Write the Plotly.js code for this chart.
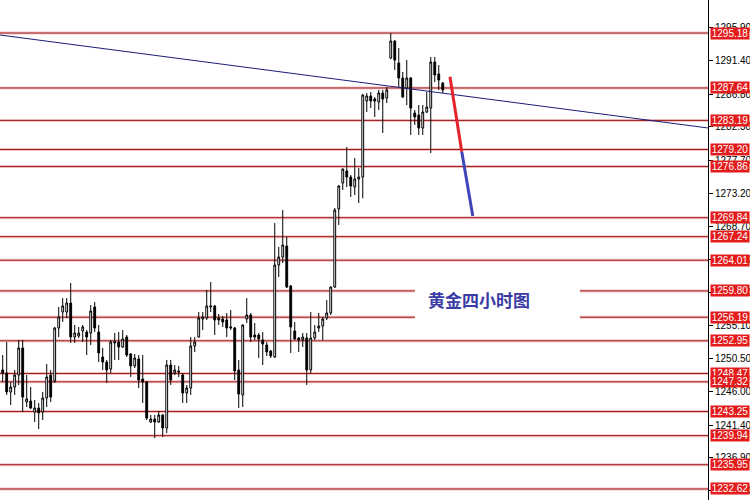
<!DOCTYPE html>
<html>
<head>
<meta charset="utf-8">
<script src="https://cdn.plot.ly/plotly-3.0.1.min.js"></script>
<style>html,body{margin:0;padding:0;background:#fff;}#chart{width:750px;height:500px;}</style>
</head>
<body>
<div id="chart"></div>
<script>
// Candle data (4-hour gold)
var openP = [1248.95,1248.53,1245.93,1246.61,1248.26,1251.96,1244.55,1244.69,1243.18,1243.73,
1243.18,1245.10,1248.26,1247.44,1254.71,1256.90,1256.90,1258.14,1253.47,1253.61,
1254.30,1254.16,1254.02,1257.59,1254.16,1250.73,1250.04,1249.08,1252.65,1252.79,
1252.10,1253.47,1251.14,1249.49,1250.45,1247.71,1247.30,1241.81,1242.22,1241.81,
1242.77,1240.99,1249.63,1248.53,1248.81,1248.26,1245.79,1246.48,1252.24,1253.47,
1255.94,1256.08,1257.59,1257.73,1256.08,1255.94,1255.81,1254.71,1254.71,1248.95,
1245.52,1255.94,1256.49,1253.75,1253.75,1253.06,1252.38,1251.55,1250.73,1263.35,
1264.44,1265.96,1260.47,1254.30,1253.34,1253.06,1253.34,1248.95,1253.34,1254.71,
1254.98,1256.08,1256.77,1260.33,1271.03,1274.60,1276.25,1275.42,1274.05,1275.15,
1275.42,1285.85,1286.54,1286.13,1285.72,1286.95,1286.26,1291.75,1294.08,1291.07,
1289.01,1287.64,1289.01,1284.21,1283.93,1282.15,1284.34,1284.89,1291.20,1289.56,
1288.32];
var highP = [1251.00,1252.79,1247.30,1248.95,1253.06,1253.06,1248.26,1246.61,1244.83,1244.42,
1245.93,1249.77,1248.95,1254.85,1257.59,1258.81,1258.81,1260.88,1255.12,1254.85,
1255.12,1254.43,1257.86,1258.28,1255.12,1251.96,1250.32,1253.06,1254.02,1254.16,
1254.43,1253.75,1251.28,1251.14,1251.00,1251.00,1247.44,1242.77,1242.77,1243.32,
1242.91,1250.32,1250.32,1249.63,1249.50,1248.53,1246.89,1253.47,1253.47,1256.90,
1256.90,1259.92,1261.02,1257.86,1256.63,1256.36,1256.77,1257.18,1254.85,1250.32,
1255.20,1258.81,1256.77,1255.40,1254.02,1254.16,1252.79,1251.69,1269.11,1265.82,
1270.90,1267.19,1260.61,1255.53,1253.47,1254.02,1254.02,1256.90,1255.12,1256.77,
1256.22,1258.55,1260.40,1271.17,1274.33,1276.60,1279.54,1275.70,1278.03,1276.66,
1286.80,1286.95,1287.09,1286.40,1287.36,1287.36,1287.77,1295.18,1294.22,1293.12,
1289.83,1291.48,1289.15,1284.62,1285.30,1285.30,1287.09,1291.89,1291.89,1290.79,
1288.46];
var lowP = [1247.30,1245.52,1244.14,1245.52,1246.89,1243.18,1243.87,1243.60,1241.81,1240.85,
1242.09,1243.87,1244.55,1247.16,1253.47,1255.53,1256.08,1252.65,1252.65,1253.34,
1252.79,1251.00,1252.38,1254.16,1250.04,1248.95,1247.16,1248.53,1250.32,1250.32,
1251.96,1250.73,1247.99,1249.22,1246.48,1244.42,1242.09,1241.68,1239.62,1241.68,
1239.75,1240.30,1246.89,1248.26,1247.99,1244.42,1244.42,1245.52,1251.42,1253.40,
1254.43,1255.81,1256.90,1253.75,1255.12,1254.85,1253.47,1254.43,1247.57,1243.73,
1243.87,1255.40,1252.79,1253.06,1250.59,1249.63,1250.87,1250.59,1250.59,1261.71,
1263.63,1260.20,1251.28,1253.06,1251.42,1252.10,1246.89,1248.53,1253.06,1254.16,
1253.06,1255.81,1256.49,1260.20,1268.84,1273.64,1274.05,1272.68,1272.95,1271.86,
1272.50,1284.34,1284.89,1283.66,1284.62,1281.46,1285.58,1291.60,1290.11,1287.77,
1286.26,1285.30,1281.19,1282.56,1281.19,1281.19,1284.21,1278.72,1288.46,1287.36,
1286.95];
var closeP = [1248.53,1245.93,1246.61,1248.26,1251.96,1245.24,1244.97,1243.73,1243.73,1243.05,
1245.10,1247.99,1245.24,1254.71,1256.22,1257.73,1258.14,1253.47,1254.02,1254.02,
1254.85,1253.47,1257.04,1254.71,1251.28,1250.04,1248.95,1252.79,1252.85,1252.10,
1253.20,1251.00,1249.49,1250.59,1247.57,1247.30,1242.36,1242.22,1241.81,1242.77,
1240.99,1249.63,1247.57,1248.95,1248.67,1245.79,1246.48,1252.24,1252.79,1256.08,
1256.22,1257.73,1257.73,1255.81,1255.81,1255.53,1254.71,1254.85,1248.81,1245.65,
1255.12,1256.49,1253.47,1253.47,1253.20,1252.51,1251.42,1250.87,1263.35,1264.44,
1266.10,1260.33,1254.85,1253.20,1253.06,1253.47,1248.95,1253.34,1254.16,1254.98,
1255.94,1256.77,1260.33,1270.90,1274.19,1276.52,1275.42,1274.19,1275.15,1275.42,
1286.67,1286.54,1285.85,1285.85,1286.95,1286.13,1287.36,1294.08,1291.48,1289.01,
1286.40,1289.01,1284.89,1283.66,1282.15,1284.34,1285.03,1291.20,1289.42,1288.73,
1287.36];

// Horizontal support / resistance levels
var levels = [1295.18,1287.64,1283.19,1279.20,1276.86,1269.84,1267.24,1264.01,1259.80,
1256.19,1252.95,1248.47,1247.32,1243.25,1239.94,1235.95,1232.62];

// Right axis ticks
var tickVals = [1295.90,1291.40,1286.80,1282.30,1277.70,1273.20,1268.70,1264.10,1259.60,
1255.10,1250.50,1246.00,1241.40,1236.90,1232.40];

// Trend line (bar index, price)
var trendX = [-1, 177];
var trendY = [1294.93, 1282.10];
// Forecast path: red leg, then blue leg
var redX = [111.8, 114.75];
var redY = [1289.19, 1278.90];
var blueX = [114.75, 117.5];
var blueY = [1278.90, 1270.07];

var chartTitle = '黄金四小时图';

var idx = openP.map(function(_, i){ return i; });

var traces = [
  {
    type: 'candlestick', x: idx, open: openP, high: highP, low: lowP, close: closeP,
    increasing: {line: {color: '#000000', width: 1}, fillcolor: '#ffffff'},
    decreasing: {line: {color: '#000000', width: 1}, fillcolor: '#000000'},
    whiskerwidth: 0, hoverinfo: 'skip', showlegend: false
  },
  {type: 'scatter', mode: 'lines', x: trendX, y: trendY, line: {color: '#1c1c78', width: 1}, hoverinfo: 'skip', showlegend: false},
  {type: 'scatter', mode: 'lines', x: redX, y: redY, line: {color: '#e5232a', width: 3}, hoverinfo: 'skip', showlegend: false},
  {type: 'scatter', mode: 'lines', x: blueX, y: blueY, line: {color: '#3f45b8', width: 3}, hoverinfo: 'skip', showlegend: false}
];

var shapes = [];
levels.forEach(function(v){
  shapes.push({type: 'line', xref: 'paper', x0: 0, x1: 1, yref: 'y', y0: v, y1: v, layer: 'below',
    line: {color: 'rgba(235,150,150,0.55)', width: 3}});
  shapes.push({type: 'line', xref: 'paper', x0: 0, x1: 1, yref: 'y', y0: v, y1: v, layer: 'below',
    line: {color: '#9c1a1a', width: 1}});
});
// white backing behind the caption
shapes.push({type: 'rect', xref: 'paper', yref: 'paper', x0: 0.586, x1: 0.819, y0: 0.358, y1: 0.426,
  fillcolor: '#ffffff', line: {width: 0}, layer: 'above'});

var annotations = levels.map(function(v){
  return {xref: 'paper', x: 1, xshift: 2, xanchor: 'left', yref: 'y', y: v, yanchor: 'middle',
    text: v.toFixed(2), showarrow: false, bgcolor: '#e41b1b', borderpad: 0, width: 38, height: 11,
    font: {family: 'Liberation Sans, Arial, sans-serif', size: 10, color: '#ffffff'}};
});
annotations.push({xref: 'paper', yref: 'paper', x: 0.677, y: 0.402, xanchor: 'center', yanchor: 'middle',
  text: '<b>' + chartTitle + '</b>', showarrow: false,
  font: {family: 'Noto Sans CJK SC, sans-serif', size: 17, color: '#3b3ba6'}});

var layout = {
  width: 750, height: 500,
  margin: {l: 0, r: 42, t: 0, b: 0, pad: 0},
  paper_bgcolor: '#ffffff', plot_bgcolor: '#ffffff',
  showlegend: false,
  boxgap: 0.35,
  xaxis: {range: [-0.675, 176.3], visible: false, rangeslider: {visible: false}, fixedrange: true},
  yaxis: {
    range: [1231.11, 1299.71], side: 'right', showgrid: false, zeroline: false,
    showline: true, linecolor: '#000000', linewidth: 1, mirror: false,
    ticks: 'outside', ticklen: 4, tickcolor: '#000000', tickwidth: 1,
    tickvals: tickVals, ticktext: tickVals.map(function(v){ return v.toFixed(2); }),
    tickfont: {family: 'Liberation Sans, Arial, sans-serif', size: 10, color: '#000000'},
    fixedrange: true
  },
  shapes: shapes,
  annotations: annotations
};

Plotly.newPlot('chart', traces, layout, {staticPlot: true, displayModeBar: false});
</script>
</body>
</html>
